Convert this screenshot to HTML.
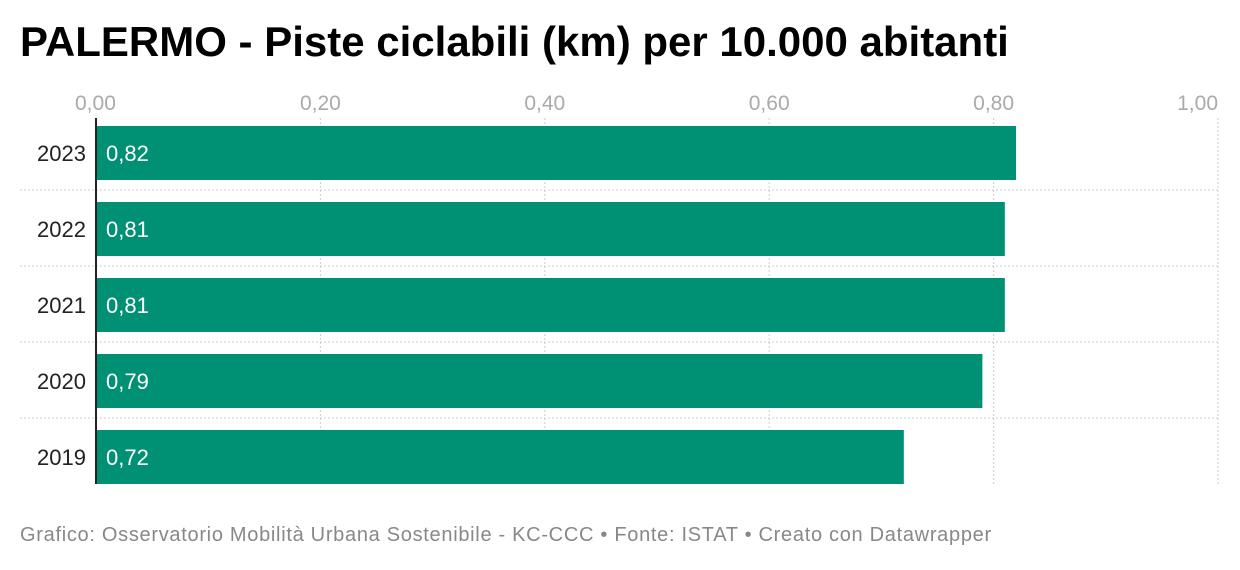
<!DOCTYPE html>
<html><head><meta charset="utf-8"><style>
body{margin:0;background:#fff;font-family:"Liberation Sans",sans-serif;}
#wrap{position:relative;width:1240px;height:570px;overflow:hidden}
h1{position:absolute;left:20px;top:18px;margin:0;font-size:42px;font-weight:bold;color:#000;letter-spacing:0px;white-space:nowrap}
#foot{position:absolute;left:20px;top:524px;font-size:20px;color:#888;letter-spacing:0.7px;white-space:nowrap}
</style></head><body>
<div id="wrap">
<h1>PALERMO - Piste ciclabili (km) per 10.000 abitanti</h1>
<svg id="chart" width="1240" height="570" style="position:absolute;left:0;top:0"></svg>
<div id="foot">Grafico: Osservatorio Mobilità Urbana Sostenibile - KC-CCC • Fonte: ISTAT • Creato con Datawrapper</div>
</div>
<script>
const categories=["2023","2022","2021","2020","2019"];
const values=[0.82,0.81,0.81,0.79,0.72];
const labels=["0,82","0,81","0,81","0,79","0,72"];
const ticks=[0,0.2,0.4,0.6,0.8,1.0];
const tickLabels=["0,00","0,20","0,40","0,60","0,80","1,00"];
const NS="http://www.w3.org/2000/svg";
const svg=document.getElementById('chart');
const x=v=>96+v*1122;
const yTop=i=>126+i*76;
const barH=54;
function mk(t,a){const e=document.createElementNS(NS,t);for(const k in a)e.setAttribute(k,a[k]);svg.appendChild(e);return e;}
ticks.forEach((t,i)=>{
  if(i>0){const g=mk('line',{x1:x(t),x2:x(t),y1:118,y2:484,stroke:'#ccc','stroke-dasharray':'2,2'});
  
  }
  const tx=mk('text',{x:x(t),y:110,'text-anchor':i==0?'start':(i==ticks.length-1?'end':'middle'),'font-size':21,fill:'#aaa','font-family':'Liberation Sans'});
  if(i==0)tx.setAttribute('x',x(t)-21);
  tx.textContent=tickLabels[i];
  
  
});
categories.forEach((c,i)=>{
  if(i>0){const s=mk('line',{x1:20,x2:1218,y1:yTop(i)-12,y2:yTop(i)-12,stroke:'#ccc','stroke-dasharray':'2,2'});
  
  }
  const r=mk('rect',{x:x(0),y:yTop(i),width:x(values[i])-x(0),height:barH,fill:'#009175'});
  
  
  const l=mk('text',{x:86,y:yTop(i)+barH/2+8,'text-anchor':'end','font-size':22,fill:'#222','font-family':'Liberation Sans'});
  l.textContent=c;
  
  
  const v=mk('text',{x:x(0)+10,y:yTop(i)+barH/2+8,'font-size':22,fill:'#fff','font-family':'Liberation Sans'});
  v.textContent=labels[i];
  
  
});
const ax=mk('line',{x1:x(0),x2:x(0),y1:118,y2:484,stroke:'#222','stroke-width':2});


</script>
</body></html>
